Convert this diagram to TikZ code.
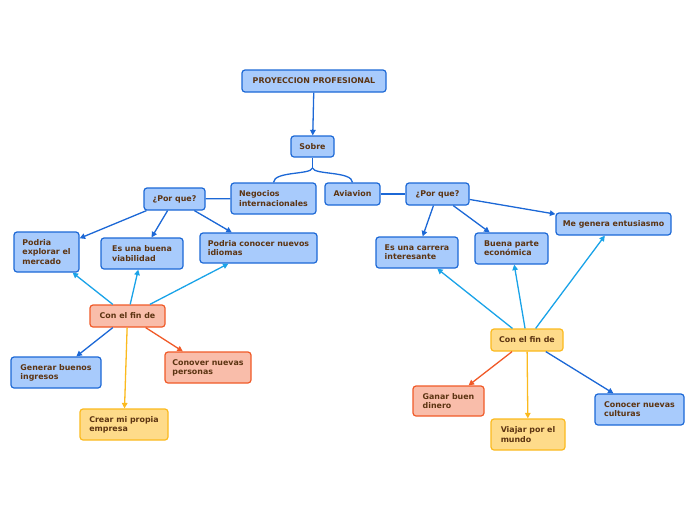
\documentclass[tikz,border=0pt]{standalone}
\usepackage{fontspec}
\setmainfont{DejaVu Sans}
\usetikzlibrary{arrows.meta}
\definecolor{txtbrown}{RGB}{92,52,18}
\definecolor{bluefill}{RGB}{168,203,252}
\definecolor{bluedraw}{RGB}{28,104,214}
\definecolor{salmonfill}{RGB}{249,189,170}
\definecolor{salmondraw}{RGB}{240,90,40}
\definecolor{yellowfill}{RGB}{254,219,138}
\definecolor{yellowdraw}{RGB}{251,186,30}
\definecolor{skyblue}{RGB}{26,163,232}

\begin{document}
\begin{tikzpicture}[x=1pt, y=-1pt,
		box/.style={draw, rounded corners=3pt, line width=1.2pt, align=left, inner sep=2pt,
			text=txtbrown, font=\fontsize{7.9}{9.2}\selectfont\bfseries},
		bluebox/.style={box, draw=bluedraw, fill=bluefill},
		salmonbox/.style={box, draw=salmondraw, fill=salmonfill},
		yellowbox/.style={box, draw=yellowdraw, fill=yellowfill},
		blueline/.style={line width=1.3pt, draw=bluedraw},
		link/.style={line width=1.3pt, -{Triangle[length=5.5pt,width=5.5pt]}},
		bluelink/.style={link, draw=bluedraw, fill=bluedraw},
		skylink/.style={link, draw=skyblue, fill=skyblue},
		salmonlink/.style={link, draw=salmondraw, fill=salmondraw},
		yellowlink/.style={link, draw=yellowdraw, fill=yellowdraw}]
		%%%%% START %%%%%
		
		\useasboundingbox (0, 0) rectangle (696, 520);
		
		\node[bluebox, minimum width=144pt, minimum height=22pt] (proyeccion) at (314, 81) {PROYECCION PROFESIONAL};
		\node[bluebox, minimum width=43pt, minimum height=21pt] (sobre) at (312.5, 146.5) {Sobre};
		\node[bluebox, minimum width=85pt, minimum height=31pt] (negocios) at (273.5, 198.5) {Negocios\\internacionales};
		\node[bluebox, minimum width=55pt, minimum height=22pt] (aviavion) at (352.5, 194) {Aviavion};
		
		\node[bluebox, minimum width=61pt, minimum height=22pt] (porqueA) at (174.5, 199) {¿Por que?};
		\node[bluebox, minimum width=63pt, minimum height=22pt] (porqueB) at (437.5, 194) {¿Por que?};
		
		\node[bluebox, minimum width=65pt, minimum height=40pt] (explorar) at (46.5, 252) {Podria\\explorar el\\mercado};
		\node[bluebox, minimum width=82pt, minimum height=31pt] (viabilidad) at (142, 253.5) {Es una buena\\viabilidad};
		\node[bluebox, minimum width=117pt, minimum height=30pt] (idiomas) at (258.5, 248) {Podria conocer nuevos\\idiomas};
		
		\node[bluebox, minimum width=82pt, minimum height=31pt] (carrera) at (417, 252.5) {Es una carrera\\interesante};
		\node[bluebox, minimum width=73pt, minimum height=31pt] (economica) at (511.5, 248.5) {Buena parte\\económica};
		\node[bluebox, minimum width=115pt, minimum height=22pt] (entusiasmo) at (613.5, 224) {Me genera entusiasmo};
		
		\node[salmonbox, minimum width=75pt, minimum height=22pt] (finA) at (127.5, 316) {Con el fin de};
		\node[bluebox, minimum width=90pt, minimum height=31pt] (ingresos) at (56, 372.5) {Generar buenos\\ingresos};
		\node[salmonbox, minimum width=86pt, minimum height=31pt] (personas) at (208, 367.5) {Conover nuevas\\personas};
		\node[yellowbox, minimum width=88pt, minimum height=31pt] (empresa) at (124, 424.5) {Crear mi propia\\empresa};
		
		\node[yellowbox, minimum width=72pt, minimum height=22pt] (finB) at (527, 340) {Con el fin de};
		\node[salmonbox, minimum width=71pt, minimum height=30pt] (dinero) at (448.5, 401) {Ganar buen\\dinero};
		\node[yellowbox, minimum width=74pt, minimum height=31pt] (mundo) at (528, 434.5) {Viajar por el\\mundo};
		\node[bluebox, minimum width=89pt, minimum height=31pt] (culturas) at (639.5, 409.5) {Conocer nuevas\\culturas};
		
		\draw[bluelink] (proyeccion) -- (sobre);
		
		\coordinate (split) at (312.5, 168);
		\draw[blueline] (sobre) -- (split);
		\draw[blueline] (split) .. controls (311, 175) and (274, 171) .. (negocios.north);
		\draw[blueline] (split) .. controls (314, 175) and (352, 171) .. (aviavion.north);
		
		\draw[blueline] (porqueA) -- (negocios);
		\draw[blueline] (aviavion) -- (porqueB);
		
		\draw[bluelink] (porqueA) -- (explorar);
		\draw[bluelink] (porqueA) -- (viabilidad);
		\draw[bluelink] (porqueA) -- (idiomas);
		
		\draw[bluelink] (porqueB) -- (carrera);
		\draw[bluelink] (porqueB) -- (economica);
		\draw[bluelink] (porqueB) -- (entusiasmo);
		
		\draw[skylink] (finA) -- (explorar);
		\draw[skylink] (finA) -- (viabilidad);
		\draw[skylink] (finA) -- (idiomas);
		\draw[bluelink] (finA) -- (ingresos);
		\draw[yellowlink] (finA) -- (empresa);
		\draw[salmonlink] (finA) -- (personas);
		
		\draw[skylink] (finB) -- (carrera);
		\draw[skylink] (finB) -- (economica);
		\draw[skylink] (finB) -- (entusiasmo);
		\draw[salmonlink] (finB) -- (dinero);
		\draw[yellowlink] (finB) -- (mundo);
		\draw[bluelink] (finB) -- (culturas);
		
		%%%%% END %%%%%
\end{tikzpicture}
\end{document}
